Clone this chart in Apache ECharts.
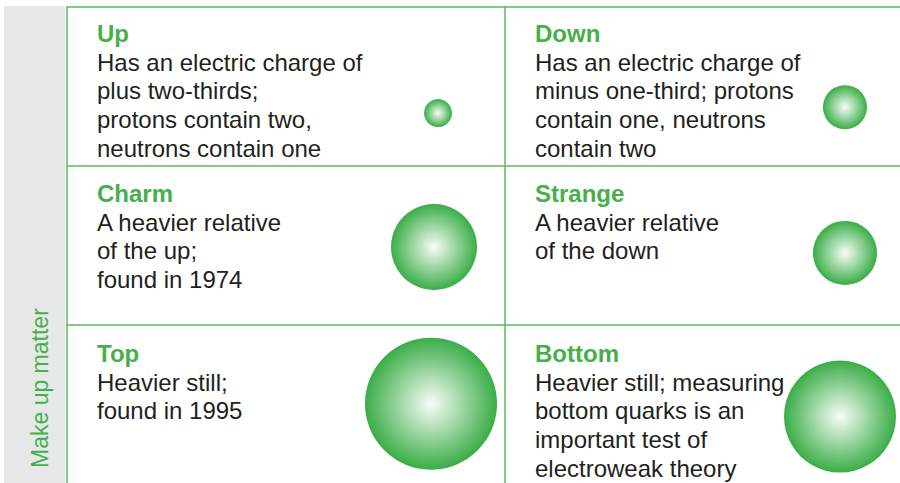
<!DOCTYPE html>
<html>
<head>
<meta charset="utf-8">
<script src="https://cdn.jsdelivr.net/npm/echarts@6/dist/echarts.min.js"></script>
<style>
html,body{margin:0;padding:0;background:#fff;overflow:hidden;width:900px;height:483px;}
#chart{width:900px;height:483px;overflow:hidden;}
#chart svg{overflow:hidden;}
</style>
</head>
<body>
<div id="chart"></div>
<script>
// ---- data ----
const quarks = ['Up', 'Down', 'Charm', 'Strange', 'Top', 'Bottom'];
const descriptions = [
  'Has an electric charge of\nplus two-thirds;\nprotons contain two,\nneutrons contain one',
  'Has an electric charge of\nminus one-third; protons\ncontain one, neutrons\ncontain two',
  'A heavier relative\nof the up;\nfound in 1974',
  'A heavier relative\nof the down',
  'Heavier still;\nfound in 1995',
  'Heavier still; measuring\nbottom quarks is an\nimportant test of\nelectroweak theory'
];
const sizes = [28, 44, 86, 64, 132, 112];   // relative circle diameters
const groupLabel = 'Make up matter';

// ---- layout (not data) ----
const columnOf = [0, 1, 0, 1, 0, 1];
const rowOf = [0, 0, 1, 1, 2, 2];
const GRID_LEFT = 67, GRID_TOP = 7, GRID_W = 833, GRID_H = 480;
const ROW_H = 160;
const COL_START = [0, 438];                 // axis units (x)
const circleDX = [371, 340, 367, 340, 364, 335];
const circleDY = [107, 101, 82, 88, 80, 93];
const TEXT_PAD = 30;

const GREEN = '#45b04a';
const LINE = '#5cb85c';
const TEXT = '#231f20';
const FONT = '"Liberation Sans", Arial, Helvetica, sans-serif';

const scatterData = quarks.map((q, i) => [
  COL_START[columnOf[i]] + circleDX[i],
  rowOf[i] * ROW_H + circleDY[i],
  sizes[i],
  q
]);

const sphere = {
  type: 'radial', x: 0.5, y: 0.5, r: 0.5,
  colorStops: [
    { offset: 0, color: '#f8fcf7' },
    { offset: 1, color: '#3aad47' }
  ]
};

const graphics = [
  { type: 'rect', shape: { x: 4, y: 6, width: 61, height: 477 }, style: { fill: '#e6e7e8' }, z: 0 },
  {
    type: 'text', x: 40, y: 468, rotation: Math.PI / 2,
    style: { text: groupLabel, fill: GREEN, font: '23px ' + FONT, textAlign: 'left', textVerticalAlign: 'middle' }
  }
];
quarks.forEach((q, i) => {
  const x0 = GRID_LEFT + COL_START[columnOf[i]] + TEXT_PAD;
  const y0 = GRID_TOP + rowOf[i] * ROW_H;
  graphics.push({
    type: 'text', x: x0, y: y0 + 12,
    style: { text: q, fill: GREEN, font: 'bold 24px ' + FONT, textAlign: 'left', textVerticalAlign: 'top', lineHeight: 28.6 }
  });
  graphics.push({
    type: 'text', x: x0, y: y0 + 41,
    style: { text: descriptions[i], fill: TEXT, font: '24px ' + FONT, textAlign: 'left', textVerticalAlign: 'top', lineHeight: 28.6 }
  });
});

const chart = echarts.init(document.getElementById('chart'), null, { renderer: 'svg', width: 900, height: 483 });
chart.setOption({
  animation: false,
  backgroundColor: '#ffffff',
  grid: { left: GRID_LEFT, top: GRID_TOP, width: GRID_W, height: GRID_H },
  xAxis: {
    type: 'value', min: 0, max: GRID_W,
    axisLine: { show: false }, axisTick: { show: false }, axisLabel: { show: false }, splitLine: { show: false }
  },
  yAxis: {
    type: 'value', min: 0, max: GRID_H, interval: ROW_H, inverse: true,
    axisLine: { show: true, lineStyle: { color: LINE, width: 1.5 } },
    axisTick: { show: false }, axisLabel: { show: false },
    splitLine: { show: true, showMinLine: true, showMaxLine: false, lineStyle: { color: LINE, width: 1.5 } }
  },
  series: [{
    type: 'scatter',
    data: scatterData,
    symbol: 'circle',
    symbolSize: v => v[2],
    itemStyle: { color: sphere, opacity: 1 },
    emphasis: { disabled: true },
    silent: true,
    markLine: {
      silent: true, symbol: 'none',
      label: { show: false },
      lineStyle: { color: LINE, width: 1.5, type: 'solid' },
      data: [{ xAxis: COL_START[1] }]
    }
  }],
  graphic: graphics
});
</script>
</body>
</html>
